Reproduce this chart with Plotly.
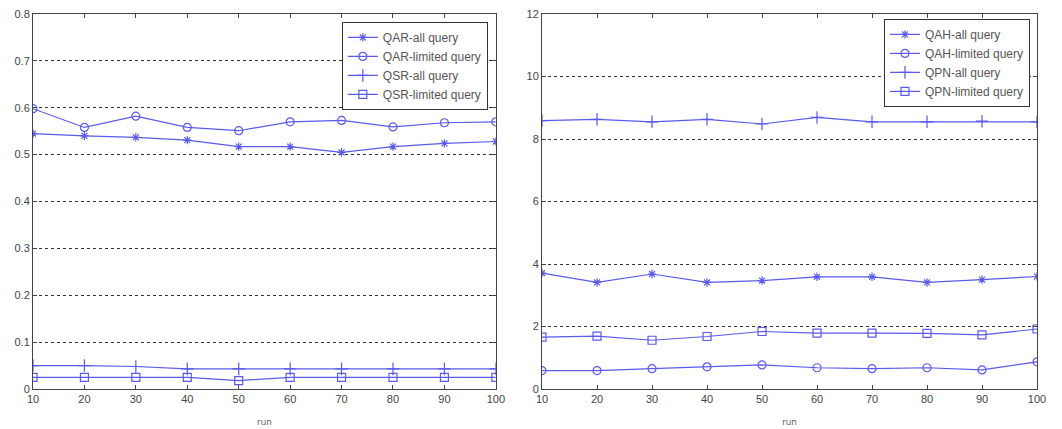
import plotly.graph_objects as go

runs = [10, 20, 30, 40, 50, 60, 70, 80, 90, 100]

# Left panel
qar_all = [0.545, 0.540, 0.537, 0.531, 0.517, 0.517, 0.505, 0.517, 0.524, 0.528]
qar_limited = [0.598, 0.558, 0.582, 0.558, 0.551, 0.570, 0.573, 0.559, 0.568, 0.570]
qsr_all = [0.050, 0.050, 0.048, 0.043, 0.043, 0.043, 0.043, 0.043, 0.043, 0.043]
qsr_limited = [0.025, 0.025, 0.025, 0.025, 0.018, 0.025, 0.025, 0.025, 0.025, 0.025]

# Right panel
qah_all = [3.71, 3.41, 3.68, 3.41, 3.47, 3.59, 3.59, 3.41, 3.50, 3.60]
qah_limited = [0.59, 0.59, 0.65, 0.71, 0.77, 0.68, 0.65, 0.68, 0.61, 0.87]
qpn_all = [8.59, 8.63, 8.55, 8.63, 8.48, 8.69, 8.55, 8.55, 8.57, 8.55]
qpn_limited = [1.66, 1.69, 1.56, 1.68, 1.84, 1.79, 1.79, 1.78, 1.73, 1.92]

left_names = ["QAR-all query", "QAR-limited query", "QSR-all query", "QSR-limited query"]
right_names = ["QAH-all query", "QAH-limited query", "QPN-all query", "QPN-limited query"]
x_title = "run"

left_ticks = [0, 0.1, 0.2, 0.3, 0.4, 0.5, 0.6, 0.7, 0.8]
left_ticktext = ["0", "0.1", "0.2", "0.3", "0.4", "0.5", "0.6", "0.7", "0.8"]
right_ticks = [0, 2, 4, 6, 8, 10, 12]

LINE = "rgb(90,90,235)"
symbols = ["asterisk-open", "circle-open", "cross-thin-open", "square-open"]
sizes = [7, 8, 9, 8]

fig = go.Figure()

for ys, name, sym, sz in zip([qar_all, qar_limited, qsr_all, qsr_limited], left_names, symbols, sizes):
    fig.add_trace(go.Scatter(
        x=runs, y=ys, name=name, mode="lines+markers",
        line=dict(color=LINE, width=1.2),
        marker=dict(symbol=sym, size=sz, color=LINE, line=dict(color=LINE, width=1.2)),
        xaxis="x", yaxis="y", legend="legend"))

for ys, name, sym, sz in zip([qah_all, qah_limited, qpn_all, qpn_limited], right_names, symbols, sizes):
    fig.add_trace(go.Scatter(
        x=runs, y=ys, name=name, mode="lines+markers",
        line=dict(color=LINE, width=1.2),
        marker=dict(symbol=sym, size=sz, color=LINE, line=dict(color=LINE, width=1.2)),
        xaxis="x2", yaxis="y2", legend="legend2"))

tickfont = dict(family="Liberation Sans, Arial, sans-serif", size=11, color="#444")
common_x = dict(range=[10, 100], tickvals=runs, ticks="inside", ticklen=4,
                showline=True, linecolor="#444", linewidth=1, mirror="allticks",
                showgrid=False, zeroline=False, tickfont=tickfont, automargin=False,
                title=dict(text=x_title, font=dict(size=9, color="#555"), standoff=14))
common_y = dict(ticks="inside", ticklen=4, showline=True, linecolor="#444", linewidth=1,
                mirror="allticks", showgrid=True, gridcolor="#333", griddash="dot",
                gridwidth=1, zeroline=False, tickfont=tickfont, automargin=False)

legend_style = dict(bgcolor="white", bordercolor="#333", borderwidth=1,
                    font=dict(family="Liberation Sans, Arial, sans-serif", size=12, color="#555"),
                    xanchor="right", yanchor="top", tracegroupgap=0, itemwidth=30)

fig.update_layout(
    width=1062, height=429,
    margin=dict(l=33, r=25, t=14, b=40),
    paper_bgcolor="white", plot_bgcolor="white",
    xaxis=dict(domain=[0, 0.461], anchor="y", **common_x),
    yaxis=dict(range=[0, 0.8], tickvals=left_ticks, ticktext=left_ticktext, anchor="x", **common_y),
    xaxis2=dict(domain=[0.507, 1.0], anchor="y2", **common_x),
    yaxis2=dict(range=[0, 12], tickvals=right_ticks, anchor="x2", **common_y),
    legend=dict(x=0.453, y=0.979, **legend_style),
    legend2=dict(x=0.993, y=0.987, **legend_style),
    showlegend=True,
)

fig.write_html("out.html")
